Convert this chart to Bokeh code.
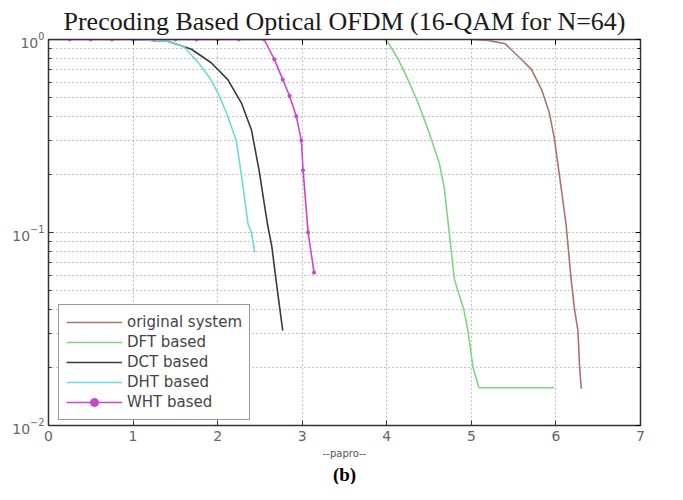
from bokeh.plotting import figure
from bokeh.models import (LinearAxis, LogAxis, Title, FixedTicker, LogTickFormatter,
                          Legend, LegendItem)
from bokeh.embed import file_html
from bokeh.resources import INLINE

# ---- data ----
orig_x = [5.0, 5.2, 5.4, 5.59, 5.71, 5.83, 5.92, 5.98, 6.04, 6.12, 6.18, 6.22, 6.26, 6.28, 6.30]
orig_y = [1.0, 0.99, 0.95, 0.79, 0.70, 0.55, 0.42, 0.31, 0.20, 0.11, 0.057, 0.040, 0.031, 0.020, 0.0155]

dft_x = [3.97, 4.01, 4.13, 4.25, 4.37, 4.49, 4.62, 4.68, 4.73, 4.80, 4.91, 4.96, 5.02, 5.09, 5.98]
dft_y = [1.0, 0.97, 0.80, 0.62, 0.47, 0.34, 0.23, 0.17, 0.108, 0.057, 0.040, 0.031, 0.020, 0.0157, 0.0157]

dct_x = [1.0, 1.41, 1.69, 1.92, 2.12, 2.28, 2.40, 2.49, 2.59, 2.64, 2.69, 2.75, 2.77]
dct_y = [1.0, 0.98, 0.89, 0.76, 0.62, 0.47, 0.34, 0.21, 0.11, 0.085, 0.057, 0.036, 0.031]

dht_x = [1.0, 1.4, 1.6, 1.77, 1.92, 2.02, 2.12, 2.22, 2.28, 2.36, 2.40, 2.44]
dht_y = [1.0, 0.98, 0.92, 0.76, 0.62, 0.51, 0.40, 0.30, 0.20, 0.11, 0.10, 0.079]

wht_x = [0.0, 0.25, 0.5, 0.75, 1.0, 1.25, 1.5, 1.75, 2.0, 2.25, 2.55, 2.67, 2.77, 2.85, 2.93, 2.99, 3.01, 3.07, 3.14]
wht_y = [1.0, 1.0, 1.0, 1.0, 1.0, 1.0, 1.0, 1.0, 1.0, 1.0, 1.0, 0.79, 0.62, 0.51, 0.40, 0.30, 0.21, 0.10, 0.062]

x_ticks = [0, 1, 2, 3, 4, 5, 6, 7]
y_ticks = [0.01, 0.1, 1.0]
y_minor_ticks = [0.02, 0.03, 0.04, 0.05, 0.06, 0.07, 0.08, 0.09,
                 0.2, 0.3, 0.4, 0.5, 0.6, 0.7, 0.8, 0.9]
series_names = ["original system", "DFT based", "DCT based", "DHT based", "WHT based"]
title_text = "Precoding Based Optical OFDM (16-QAM for N=64)"
x_label = "--papro--"
caption = "(b)"

colors = ["#b07070", "#7fd67f", "#3a3a3a", "#6fd8d8", "#cc44cc"]

p = figure(width=667, height=484, y_axis_type="log", x_range=(0, 7), y_range=(0.01, 1),
           output_backend="svg", toolbar_location=None,
           min_border_left=48, min_border_right=27, min_border_top=0, min_border_bottom=0)

p.title.text = title_text
p.title.align = "center"
p.title.text_font = "Liberation Serif"
p.title.text_font_size = "26px"
p.title.text_font_style = "normal"
p.title.text_color = "#1a1a1a"
p.title.standoff = 8

p.background_fill_color = "white"
p.outline_line_color = "#333333"
p.outline_line_width = 1.5

# grids
p.xgrid.ticker = FixedTicker(ticks=x_ticks)
p.xgrid.grid_line_color = "#888888"
p.xgrid.grid_line_dash = "1 3"
p.ygrid.ticker = FixedTicker(ticks=y_ticks, minor_ticks=y_minor_ticks)
p.ygrid.grid_line_color = "#888888"
p.ygrid.grid_line_dash = "1 3"
p.ygrid.minor_grid_line_color = "#888888"
p.ygrid.minor_grid_line_dash = "1 3"

# axes
xa = p.xaxis[0]
ya = p.yaxis[0]
xa.ticker = FixedTicker(ticks=x_ticks)
ya.ticker = FixedTicker(ticks=y_ticks, minor_ticks=y_minor_ticks)
ya.formatter = LogTickFormatter()
xa.axis_label = x_label
xa.axis_label_text_font = "DejaVu Sans"
xa.axis_label_text_font_size = "10px"
xa.axis_label_text_font_style = "normal"
xa.axis_label_text_color = "#555555"
xa.axis_label_standoff = 4

for ax in [xa, ya]:
    ax.major_label_text_font = "DejaVu Sans"
    ax.major_label_text_font_size = "14px"
    ax.major_label_text_color = "#666666"
    ax.axis_line_color = "#333333"
    ax.major_tick_in = 5
    ax.major_tick_out = 0
    ax.major_tick_line_color = "#333333"
    ax.minor_tick_in = 3
    ax.minor_tick_out = 0
    ax.minor_tick_line_color = "#333333"
xa.minor_tick_line_color = None
xa.major_label_standoff = 5
ya.major_label_standoff = 4

top = LinearAxis(ticker=FixedTicker(ticks=x_ticks),
                 major_label_overrides={t: "" for t in x_ticks},
                 major_tick_in=5, major_tick_out=0, minor_tick_line_color=None,
                 axis_line_color="#333333", major_label_standoff=0)
p.add_layout(top, "above")
right = LogAxis(ticker=FixedTicker(ticks=y_ticks, minor_ticks=y_minor_ticks),
                major_label_overrides={t: "" for t in y_ticks},
                major_tick_in=5, major_tick_out=0, minor_tick_in=3, minor_tick_out=0,
                axis_line_color="#333333", major_label_standoff=0)
p.add_layout(right, "right")

# caption below
cap = Title(text=caption, align="center", text_font="Liberation Serif", text_font_size="19px",
            text_font_style="bold", text_color="black", standoff=0)
p.add_layout(cap, "below")

# lines
r0 = p.line(orig_x, orig_y, line_color=colors[0], line_width=1.6)
r1 = p.line(dft_x, dft_y, line_color=colors[1], line_width=1.6)
r2 = p.line(dct_x, dct_y, line_color=colors[2], line_width=1.6)
r3 = p.line(dht_x, dht_y, line_color=colors[3], line_width=1.6)
r4 = p.line(wht_x, wht_y, line_color=colors[4], line_width=1.6)
r4m = p.scatter(wht_x, wht_y, marker="circle", size=3.2, fill_color=colors[4], line_color=colors[4])

items = [LegendItem(label=series_names[0], renderers=[r0]),
         LegendItem(label=series_names[1], renderers=[r1]),
         LegendItem(label=series_names[2], renderers=[r2]),
         LegendItem(label=series_names[3], renderers=[r3]),
         LegendItem(label=series_names[4], renderers=[r4, r4m])]
leg = Legend(items=items, location=(10, 5))
leg.label_text_font = "DejaVu Sans"
leg.label_text_font_size = "15px"
leg.label_text_color = "#444444"
leg.glyph_width = 56
leg.glyph_height = 20
leg.spacing = 0
leg.padding = 7
leg.label_standoff = 5
leg.border_line_color = "#333333"
leg.border_line_width = 1.5
leg.background_fill_color = "white"
leg.background_fill_alpha = 1.0
p.add_layout(leg, "center")

open("out.html", "w").write(file_html(p, INLINE))
